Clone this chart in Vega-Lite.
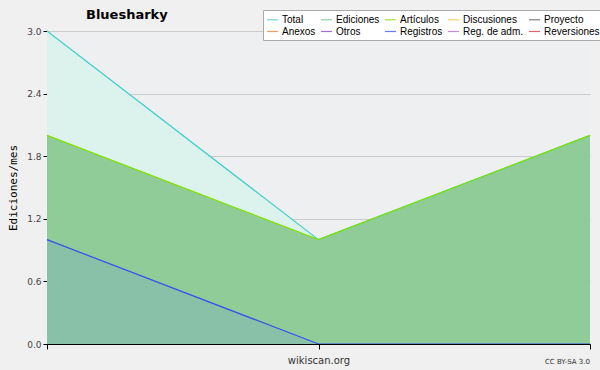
{
  "$schema": "https://vega.github.io/schema/vega-lite/v6.json",
  "width": 543,
  "height": 313,
  "autosize": {"type": "none"},
  "padding": {"left": 47, "top": 31, "right": 10, "bottom": 26},
  "background": "#f0f0f0",
  "title": {"text": "Bluesharky", "anchor": "start", "frame": "group", "dx": 39, "offset": -12, "fontSize": 13, "font": "DejaVu Sans", "fontWeight": "bold", "color": "#000"},
  "config": {
    "view": {"fill": "#eeeff1", "stroke": null},
    "font": "DejaVu Sans"
  },
  "datasets": {
    "series": [
      {"t": 0, "serie": "Total", "v": 3},
      {"t": 1, "serie": "Total", "v": 1},
      {"t": 2, "serie": "Total", "v": 2},
      {"t": 0, "serie": "Ediciones", "v": 2},
      {"t": 1, "serie": "Ediciones", "v": 1},
      {"t": 2, "serie": "Ediciones", "v": 2},
      {"t": 0, "serie": "Artículos", "v": 2},
      {"t": 1, "serie": "Artículos", "v": 1},
      {"t": 2, "serie": "Artículos", "v": 2},
      {"t": 0, "serie": "Registros", "v": 1},
      {"t": 1, "serie": "Registros", "v": 0},
      {"t": 2, "serie": "Registros", "v": 0}
    ]
  },
  "layer": [
    {
      "data": {"name": "series"},
      "transform": [{"filter": "datum.serie == 'Total'"}],
      "mark": {"type": "area", "fill": "#dcf2ec", "opacity": 1},
      "encoding": {
        "x": {"field": "t", "type": "quantitative", "scale": {"domain": [0, 2], "nice": false, "zero": false},
              "axis": {"values": [0, 1, 2], "labels": false, "ticks": true, "tickSize": 5, "tickColor": "#000", "domainColor": "#000", "grid": false, "zindex": 1,
                       "title": "wikiscan.org", "titleFontSize": 10, "titleFontWeight": "normal", "titleColor": "#333", "titlePadding": 6}},
        "y": {"field": "v", "type": "quantitative", "stack": null, "scale": {"domain": [0, 3], "nice": false},
              "axis": {"values": [0, 0.15, 0.3, 0.45, 0.6, 0.75, 0.9, 1.05, 1.2, 1.35, 1.5, 1.65, 1.8, 1.95, 2.1, 2.25, 2.4, 2.55, 2.7, 2.85, 3.0],
                       "labelExpr": "abs(datum.value/0.6 - round(datum.value/0.6)) < 0.01 ? format(datum.value, '.1f') : ''",
                       "gridOpacity": {"condition": {"test": "abs(datum.value/0.6 - round(datum.value/0.6)) < 0.01", "value": 1}, "value": 0},
                       "grid": true, "gridColor": "#cccccc", "tickColor": "#000", "tickSize": 4, "domainColor": "#000",
                       "labelFontSize": 9, "labelColor": "#444", "labelPadding": 2,
                       "title": "Ediciones/mes", "titleFont": "DejaVu Sans Mono", "titleFontSize": 11, "titleFontWeight": "normal", "titleColor": "#000", "titlePadding": 8}}
      }
    },
    {
      "data": {"name": "series"},
      "transform": [{"filter": "datum.serie == 'Ediciones'"}],
      "mark": {"type": "area", "fill": "#90cc98", "opacity": 1},
      "encoding": {
        "x": {"field": "t", "type": "quantitative"},
        "y": {"field": "v", "type": "quantitative", "stack": null}
      }
    },
    {
      "data": {"name": "series"},
      "transform": [{"filter": "datum.serie == 'Registros'"}],
      "mark": {"type": "area", "fill": "#88c0a8", "opacity": 1},
      "encoding": {
        "x": {"field": "t", "type": "quantitative"},
        "y": {"field": "v", "type": "quantitative", "stack": null}
      }
    },
    {
      "data": {"name": "series"},
      "transform": [{"filter": "datum.serie != 'Ediciones'"}],
      "mark": {"type": "line", "strokeWidth": 1.2},
      "encoding": {
        "x": {"field": "t", "type": "quantitative"},
        "y": {"field": "v", "type": "quantitative"},
        "stroke": {"field": "serie", "type": "nominal",
                   "scale": {"domain": ["Total", "Ediciones", "Artículos", "Discusiones", "Proyecto", "Anexos", "Otros", "Registros", "Reg. de adm.", "Reversiones"],
                             "range": ["#40d0c8", "#70c080", "#80e000", "#f0c840", "#555555", "#f07840", "#8040d0", "#3050f0", "#c060e0", "#e03030"]},
                   "legend": {"title": null, "orient": "none", "legendX": 216, "legendY": -21, "direction": "horizontal", "columns": 5,
                              "symbolType": "stroke", "symbolSize": 121, "symbolStrokeWidth": 1.2, "symbolOpacity": 0.75,
                              "labelFont": "Liberation Sans", "labelFontSize": 10, "labelColor": "#000", "labelOffset": 3, "rowPadding": 0, "columnPadding": 2,
                              "fillColor": "#ffffff", "strokeColor": "#aaaaaa", "padding": 3, "gridAlign": "each"}}
      }
    },
    {
      "data": {"values": [{"t": 2, "v": 0, "txt": "CC BY-SA 3.0"}]},
      "mark": {"type": "text", "align": "right", "baseline": "middle", "dy": 18, "fontSize": 7, "color": "#333"},
      "encoding": {
        "x": {"field": "t", "type": "quantitative"},
        "y": {"field": "v", "type": "quantitative"},
        "text": {"field": "txt"}
      }
    }
  ]
}
